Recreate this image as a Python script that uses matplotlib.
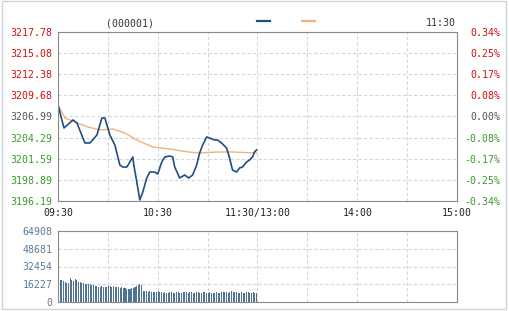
import numpy as np
import matplotlib
matplotlib.use("Agg")
import matplotlib.pyplot as plt
from matplotlib.patches import Rectangle

# --- data ---
prev_close = 3206.99
price_ticks = [3196.19, 3198.89, 3201.59, 3204.29, 3206.99, 3209.68, 3212.38, 3215.08, 3217.78]
price_labels = ["3196.19", "3198.89", "3201.59", "3204.29", "3206.99",
                "3209.68", "3212.38", "3215.08", "3217.78"]
pct_labels = ["-0.34%", "-0.25%", "-0.17%", "-0.08%", "0.00%",
              "0.08%", "0.17%", "0.25%", "0.34%"]

# minutes since 09:30 (lunch break removed)
price_min = [0, 3.6, 9, 11.4, 16.2, 19.2, 23.4, 26.4, 28.2, 31.2, 34.2, 37.2, 39, 41.4,
             43.2, 45, 45.6, 47.4, 49.2, 51, 53.4, 55.2, 58.2, 60, 62.4, 64.2, 67.2, 69,
             70.2, 73.2, 76.2, 78.6, 81, 83.4, 85.2, 87, 89.4, 91.2, 94.2, 96, 98.4,
             101.4, 103.2, 105, 107.4, 109.2, 111, 113.4, 115.2, 117, 118.2, 119.4]
price_val = [3208.45, 3205.52, 3206.54, 3206.15, 3203.60, 3203.60, 3204.62, 3206.79,
             3206.79, 3204.62, 3203.34, 3200.79, 3200.53, 3200.53, 3201.17, 3201.81,
             3200.79, 3198.62, 3196.32, 3197.34, 3199.13, 3199.89, 3199.89, 3199.64,
             3201.17, 3201.81, 3201.94, 3201.81, 3200.53, 3199.13, 3199.51, 3199.13,
             3199.51, 3200.79, 3202.32, 3203.34, 3204.37, 3204.24, 3203.98, 3203.98,
             3203.60, 3202.96, 3201.68, 3200.15, 3199.89, 3200.41, 3200.53, 3201.17,
             3201.43, 3201.81, 3202.45, 3202.71]

avg_min = [0, 4.2, 7.2, 18, 25.2, 33, 40.2, 47.4, 57, 67.2, 78.6, 85.2, 95.4, 105, 119.4]
avg_val = [3208.45, 3206.79, 3206.54, 3205.64, 3205.26, 3205.39, 3204.88, 3203.98,
           3203.09, 3202.83, 3202.45, 3202.32, 3202.45, 3202.45, 3202.32]

vol_ticks = [0, 16227, 32454, 48681, 64908]
volume = [22000, 20500, 19800, 19000, 18200, 17500, 17000, 21700, 20000, 19000,
          21000, 19800, 18500, 18000, 17500, 17200, 16800, 16500, 16200, 16000,
          15500, 15300, 14800, 14500, 14000, 13800, 14200, 13800, 14000, 13600,
          14300, 14500, 14000, 14300, 13800, 13500, 13300, 13000, 13500, 12800,
          12500, 12200, 12000, 11800, 12500, 13200, 13500, 14800, 15800, 16500,
          15300, 10300, 10000, 9800, 9500, 9700, 9200, 9000, 8800, 9400,
          9800, 9100, 8800, 8600, 9000, 8400, 8200, 8800, 9100, 8500,
          8300, 8700, 8900, 8400, 8600, 8800, 9200, 8700, 8500, 8900,
          9000, 8600, 8400, 8700, 8800, 8500, 8300, 8900, 9100, 8600,
          8400, 8800, 8500, 8200, 8600, 8900, 8400, 8300, 8700, 9000,
          9300, 8800, 8500, 8700, 9900, 9200, 8800, 9000, 8600, 8400,
          8800, 8500, 8300, 8700, 8900, 8600, 8400, 8800, 8500, 7800]

time_ticks = [0, 60, 120, 180, 240]
time_labels = ["09:30", "10:30", "11:30/13:00", "14:00", "15:00"]

W, H = 509, 311
RED, GREEN, GRAY = "#cc1010", "#3a9a2a", "#555555"
FONT = "DejaVu Sans Mono"
FS = 7.1


def px(x0, y0, x1, y1):
    # pixel box (top-left origin) -> figure fraction rect
    return [x0 / W, (H - y1) / H, (x1 - x0) / W, (y1 - y0) / H]


fig = plt.figure(figsize=(W / 100, H / 100), dpi=100)
fig.patches.append(Rectangle((2 / W, 2 / H), 504 / W, 308 / H, transform=fig.transFigure,
                             fill=False, edgecolor="#cfd4da", linewidth=1))

ax = fig.add_axes(px(58, 32, 457, 201))
ax.plot(avg_min, avg_val, color="#f2b27a", lw=1.0)
ax.plot(price_min, price_val, color="#1f4f82", lw=1.2)
ax.set_xlim(0, 240)
ax.set_ylim(price_ticks[0], price_ticks[-1])
ax.set_xticks(np.arange(0, 241, 30))
ax.set_xticklabels([])
ax.set_yticks(price_ticks)
ax.set_yticklabels(price_labels, fontfamily=FONT, fontsize=FS)
for lab, v in zip(ax.get_yticklabels(), price_ticks):
    lab.set_color(RED if v > prev_close + 0.01 else GREEN if v < prev_close - 0.01 else GRAY)
ax.tick_params(length=0, pad=4)
ax.grid(True, color="#d6d6d6", linestyle=(0, (3, 2)), linewidth=0.8)
for s in ax.spines.values():
    s.set_color("#8a8a8a")

ax2 = ax.twinx()
pct = [(v / prev_close - 1) * 100 for v in price_ticks]
ax2.set_ylim(pct[0], pct[-1])
ax2.set_yticks(pct)
ax2.set_yticklabels(pct_labels, fontfamily=FONT, fontsize=FS, ha="right")
for lab, v in zip(ax2.get_yticklabels(), pct):
    lab.set_color(RED if v > 0.001 else GREEN if v < -0.001 else GRAY)
ax2.tick_params(length=0, pad=31.5)
for s in ax2.spines.values():
    s.set_visible(False)

for t, lab in zip(time_ticks, time_labels):
    fig.text((58 + t * 399 / 240) / W, 1 - 213 / H, lab, ha="center", va="center",
             fontfamily=FONT, fontsize=FS, color="#222222")

fig.text(130 / W, 1 - 23 / H, "(000001)", ha="center", va="center",
         fontfamily=FONT, fontsize=FS, color="#333333")
fig.text(456 / W, 1 - 23 / H, "11:30", ha="right", va="center",
         fontfamily=FONT, fontsize=FS, color="#333333")
fig.lines.append(plt.Line2D([257 / W, 270 / W], [1 - 21 / H] * 2, transform=fig.transFigure,
                            color="#1f4f82", lw=1.6))
fig.lines.append(plt.Line2D([302 / W, 315 / W], [1 - 21 / H] * 2, transform=fig.transFigure,
                            color="#f2b27a", lw=1.6))

axv = fig.add_axes(px(58, 231, 457, 302))
axv.bar(np.arange(len(volume)), volume, width=0.62, align="edge", color="#4f7391")
axv.set_xlim(0, 240)
axv.set_ylim(0, vol_ticks[-1])
axv.set_xticks(np.arange(0, 241, 30))
axv.set_xticklabels([])
axv.set_yticks(vol_ticks)
axv.set_yticklabels([str(v) for v in vol_ticks], fontfamily=FONT, fontsize=FS)
for lab, v in zip(axv.get_yticklabels(), vol_ticks):
    lab.set_color("#777777" if v == 0 else "#5b7a99")
axv.tick_params(length=0, pad=4)
axv.grid(True, color="#d6d6d6", linestyle=(0, (3, 2)), linewidth=0.8)
axv.set_axisbelow(True)
for s in axv.spines.values():
    s.set_color("#8a8a8a")

fig.savefig("out.png", dpi=100)
